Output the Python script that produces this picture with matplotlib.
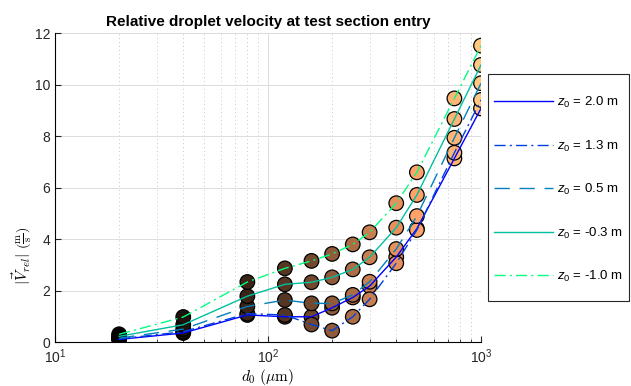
import numpy as np
import matplotlib
matplotlib.use("Agg")
import matplotlib.pyplot as plt
from matplotlib import cm
from matplotlib.patches import Rectangle

plt.rcParams['font.family'] = ['Liberation Sans', 'DejaVu Sans']
plt.rcParams['mathtext.fontset'] = 'custom'
plt.rcParams['mathtext.rm'] = 'Liberation Sans'
plt.rcParams['mathtext.it'] = 'Liberation Sans:italic'

# droplet diameters (um)
d0 = [20, 40, 80, 120, 160, 200, 250, 300, 400, 500, 750, 1000]

# relative velocity (m/s) per release height
z_labels = ['2.0', '1.3', '0.5', '-0.3', '-1.0']
v_z20 = [0.10, 0.35, 1.05, 0.98, 0.98, 1.33, 1.73, 2.17, 3.30, 4.40, 7.13, 9.07]
v_z13 = [0.12, 0.40, 1.10, 1.05, 0.68, 0.44, 0.98, 1.66, 3.06, 4.35, 7.35, 9.40]
v_z05 = [0.15, 0.50, 1.38, 1.63, 1.50, 1.50, 1.83, 2.34, 3.61, 4.89, 7.93, 10.05]
v_zm03 = [0.22, 0.67, 1.78, 2.24, 2.32, 2.51, 2.82, 3.29, 4.44, 5.71, 8.66, 10.76]
v_zm10 = [0.30, 0.97, 2.33, 2.86, 3.15, 3.42, 3.79, 4.26, 5.39, 6.59, 9.46, 11.51]

series = [v_z20, v_z13, v_z05, v_zm03, v_zm10]
styles = ['-', (0, (8, 3, 1.5, 3)), (0, (11, 7)), '-', (0, (8, 3, 1.5, 3))]

fig = plt.figure(figsize=(6.31, 3.86), dpi=100)
ax = fig.add_axes([55/631, 44/386, 426/631, 309/386])

line_cols = cm.winter(np.linspace(0, 1, len(series)))
mk_cols = cm.copper(np.linspace(0, 1, len(d0)))

for v in series:
    ax.scatter(d0, v, s=110, c=mk_cols, edgecolors='black', linewidths=0.9, zorder=3)

for v, lab, ls, col in zip(series, z_labels, styles, line_cols):
    ax.plot(d0, v, linestyle=ls, color=col, lw=1.0, zorder=4,
            label='$z_0$ = ' + lab + ' m')

ax.set_xscale('log')
ax.set_xlim(10, 1000)
ax.set_ylim(0, 12)
ax.set_yticks(range(0, 13, 2))

ax.grid(True, which='major', color='#dcdcdc', lw=0.7, zorder=0)
ax.grid(True, which='minor', axis='x', color='#c8c8c8', lw=0.7, linestyle=(0, (1, 3)), zorder=0)
ax.set_axisbelow(True)
ax.spines['top'].set_visible(False)
ax.spines['right'].set_visible(False)
ax.tick_params(which='both', direction='in', labelsize=10, colors='#262626')
ax.tick_params(which='major', length=4)
ax.tick_params(which='minor', length=2)
ax.tick_params(axis='x', pad=4)

ax.set_title('Relative droplet velocity at test section entry', fontsize=11,
             fontweight='bold', pad=5)
ax.set_xlabel(r'$d_0\ (\mu\mathrm{m})$', fontsize=11, math_fontfamily='cm')
ax.set_ylabel(r'$|\vec{V}_{rel}|\ \left(\frac{\mathrm{m}}{\mathrm{s}}\right)$',
              fontsize=11, math_fontfamily='cm')
ax.yaxis.set_label_coords(-0.05, 0.28)
ax.xaxis.set_label_coords(0.5, -0.082)

# legend sits outside the axes, with its own frame
leg = fig.legend(loc='upper left', bbox_to_anchor=(494/631, 1 - 95/386),
                 fontsize=9.5, handlelength=4.5, labelspacing=2.15,
                 borderpad=0, frameon=False, handletextpad=0.3, borderaxespad=0)
fig.patches.append(Rectangle((488/631, 1 - 301/386), 141/631, 227/386,
                             transform=fig.transFigure, fill=False,
                             ec='#262626', lw=0.8))

fig.savefig('out.png', dpi=100)
